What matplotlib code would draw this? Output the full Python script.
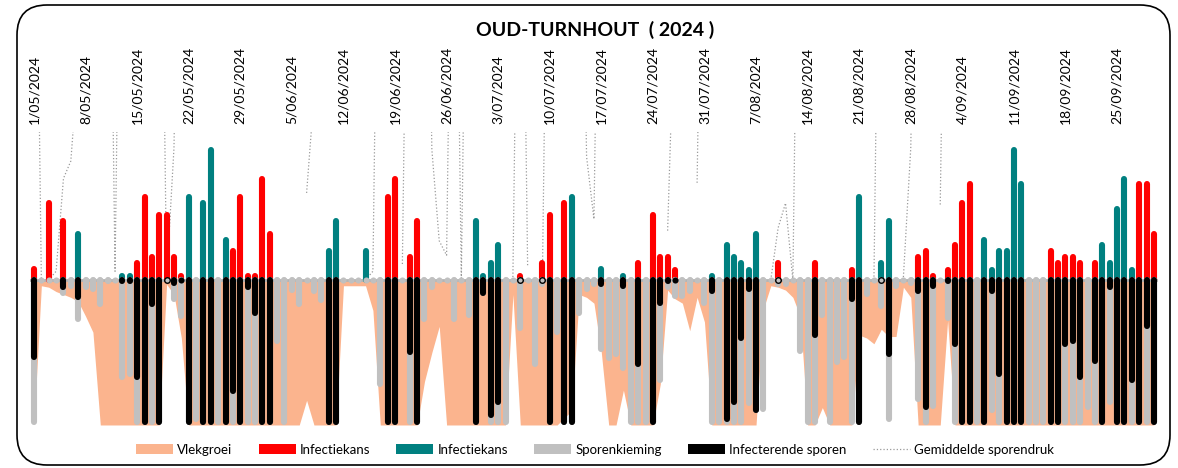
import numpy as np
import matplotlib.pyplot as plt
from matplotlib.patches import FancyBboxPatch, Patch
from matplotlib.lines import Line2D
from matplotlib.transforms import IdentityTransform

plt.rcParams['font.family'] = ['Lato', 'DejaVu Sans']

N = None

# infectiekans (rood / blauwgroen), per dag vanaf 1 mei
rood = [10, 0, 55, 0, 43, 0, 0,
        0, 0, 0, 0, 0, 0, 0,
        14, 59, 18, 47, 47, 18, 5,
        0, 0, 0, 0, 0, 0, 22,
        59, 5, 5, 72, 34, 0, 0,
        0, 0, 0, 0, 0, 0, 0,
        0, 0, 0, 0, 0, 0, 59,
        72, 0, 18, 43, 0, 0, 0,
        0, 0, 0, 0, 0, 0, 0,
        0, 0, 0, 5, 0, 0, 14,
        47, 0, 55, 0, 0, 0, 0,
        0, 0, 0, 0, 0, 14, 0,
        47, 18, 18, 9, 0, 0, 0,
        0, 0, 0, 0, 0, 0, 0,
        0, 0, 0, 14, 0, 0, 0,
        0, 14, 0, 0, 0, 0, 9,
        0, 0, 0, 0, 0, 0, 0,
        0, 18, 22, 5, 0, 9, 26,
        55, 68, 0, 0, 0, 0, 0,
        0, 0, 0, 0, 0, 22, 14,
        18, 18, 14, 0, 14, 0, 0,
        0, 0, 0, 68, 68, 34]

groen = [0, 0, 0, 0, 0, 0, 34,
         0, 0, 0, 0, 0, 5, 5,
         0, 0, 0, 0, 0, 0, 0,
         59, 0, 55, 92, 0, 30, 0,
         0, 0, 0, 0, 0, 0, 0,
         0, 0, 0, 0, 0, 22, 43,
         0, 0, 0, 22, 0, 0, 0,
         0, 0, 0, 0, 0, 0, 0,
         0, 0, 0, 0, 43, 5, 14,
         26, 0, 0, 0, 0, 0, 0,
         0, 0, 0, 59, 0, 0, 0,
         10, 0, 0, 5, 0, 0, 0,
         0, 0, 0, 0, 0, 0, 0,
         0, 5, 0, 26, 18, 14, 9,
         34, 0, 0, 0, 0, 0, 0,
         0, 0, 0, 0, 0, 0, 0,
         59, 0, 0, 14, 43, 0, 0,
         0, 0, 0, 0, 0, 0, 0,
         0, 0, 0, 30, 9, 22, 22,
         92, 68, 0, 0, 0, 0, 0,
         0, 0, 0, 0, 0, 26, 14,
         51, 72, 9, 0, 0, 0]

# sporenkieming (naar beneden)
kieming = [100, 0, 0, 0, 11, 6, 29,
           7, 8, 19, 3, 0, 69, 67,
           100, 100, 100, 100, 0, 15, 27,
           100, 98, 100, 100, 100, 100, 100,
           100, 100, 100, 100, 100, 44, 100,
           9, 19, 0, 10, 16, 100, 100,
           0, 0, 0, 0, 0, 74, 100,
           100, 0, 100, 100, 29, 7, 0,
           0, 29, 0, 26, 100, 11, 100,
           100, 100, 0, 35, 0, 60, 5,
           100, 38, 100, 100, 25, 8, 5,
           50, 56, 53, 63, 100, 100, 100,
           100, 71, 7, 13, 13, 10, 0,
           18, 100, 100, 100, 100, 100, 87,
           92, 91, 0, 5, 5, 0, 51,
           100, 100, 26, 100, 59, 55, 100,
           100, 12, 0, 20, 98, 6, 0,
           4, 84, 100, 89, 0, 28, 100,
           100, 100, 100, 100, 92, 100, 100,
           100, 100, 100, 100, 100, 100, 100,
           100, 100, 100, 90, 100, 100, 86,
           100, 100, 100, 100, 100, 100]

# infecterende sporen (naar beneden), 0 = klein ringetje
sporen = [55, N, N, N, 7, N, 14,
          N, N, N, N, N, 3, 3,
          69, 100, 19, 100, 0, 4, 2,
          100, N, 100, 100, N, 100, 79,
          100, 7, 25, 100, 100, N, N,
          N, N, N, N, N, 100, 100,
          N, N, N, N, N, N, 100,
          100, N, 52, 100, N, N, N,
          N, N, N, N, 100, 11, 95,
          86, N, N, 0, N, N, 0,
          100, N, 100, 100, N, N, N,
          5, N, N, 6, N, 60, N,
          100, 18, 3, 2, N, N, N,
          N, 10, N, 98, 86, 42, 8,
          92, N, N, 0, N, N, N,
          N, 40, N, N, N, N, 15,
          100, N, N, 0, 53, N, N,
          N, 10, 90, 6, N, 3, 46,
          100, 100, N, 100, 10, 67, 100,
          100, 100, N, N, N, 100, 100,
          46, 44, 69, N, 58, 100, 7,
          100, 100, 71, 100, 34, 100]

# vlekgroei (vlak naar beneden)
vlekgroei = [100, 4, 5, 8, 10, 12, 15,
             25, 36, 100, 100, 100, 100, 100,
             100, 100, 100, 100, 3, 10, 40,
             100, 100, 100, 100, 100, 100, 100,
             100, 100, 100, 100, 100, 100, 100,
             100, 100, 83, 100, 100, 100, 100,
             4, 4, 4, 4, 21, 100, 100,
             100, 100, 100, 100, 70, 50, 32,
             100, 100, 100, 100, 100, 100, 100,
             100, 100, 10, 100, 100, 100, 100,
             100, 100, 95, 90, 10, 12, 16,
             50, 100, 100, 76, 100, 100, 100,
             100, 72, 7, 13, 16, 35, 12,
             29, 100, 100, 100, 100, 100, 100,
             100, 20, 4, 5, 7, 12, 25,
             100, 100, 88, 100, 100, 100, 100,
             38, 40, 44, 34, 39, 39, 5,
             12, 100, 100, 100, 100, 28, 100,
             100, 100, 100, 100, 100, 100, 100,
             100, 100, 100, 100, 100, 100, 100,
             100, 100, 100, 100, 100, 100, 100,
             100, 100, 100, 100, 100, 100]

# gemiddelde sporendruk (meestal boven de grafiek)
sporendruk = [400, 0, 0, 6, 70, 82, 150,
              400, N, N, 400, 6, 400, N,
              N, N, N, 400, 1, 91, 400,
              N, N, N, N, N, N, N,
              N, N, N, N, N, N, N,
              N, N, 60, 127, 400, N, N,
              N, N, N, 0, 6, 400, N,
              N, 11, 400, N, 400, 90, 27,
              17, 400, 0, 400, N, N, N,
              N, N, 2, 400, 9, N, 0,
              400, N, N, N, 400, 85, 42,
              400, N, N, N, N, N, N,
              N, N, 34, 199, N, N, 67,
              400, N, N, N, N, N, N,
              N, N, 0, 36, 53, 0, 400,
              N, N, N, N, N, N, N,
              N, N, 0, 400, N, N, 2,
              91, 400, N, N, 52, 400, N,
              N, N, N, N, N, N, N,
              N, N, N, N, N, N, N,
              N, N, N, N, N, N, N,
              N, N, N, N, N, N]

datum_labels = ['1/05/2024', '8/05/2024', '15/05/2024', '22/05/2024', '29/05/2024',
                '5/06/2024', '12/06/2024', '19/06/2024', '26/06/2024', '3/07/2024',
                '10/07/2024', '17/07/2024', '24/07/2024', '31/07/2024', '7/08/2024',
                '14/08/2024', '21/08/2024', '28/08/2024', '4/09/2024', '11/09/2024',
                '18/09/2024', '25/09/2024']

c_vlek = '#FBB48E'
c_rood = '#FF0000'
c_groen = '#008080'
c_grijs = '#C0C0C0'

def arr(lst):
    return np.array([np.nan if v is None else v for v in lst], dtype=float)

rood, groen, kieming, sporen, vlekgroei, sporendruk = map(
    arr, [rood, groen, kieming, sporen, vlekgroei, sporendruk])
dagen = np.arange(len(rood))

fig = plt.figure(figsize=(11.78, 4.68), dpi=100)
ax = fig.add_axes([0.0251, 0.0919, 0.9582, 0.626])
ax.set_xlim(-0.6, len(dagen) - 0.4)
ax.set_ylim(-100, 102)

lw = 4.4
# half the bar width in data units, so the round caps end on the value
r = lw / 72 * 100 / 2 / (fig.get_figheight() * 100 * 0.626 / 202)

def staven(vals, sign, color, z):
    ok = ~np.isnan(vals) & (vals > r)
    lc = ax.vlines(dagen[ok], 0, sign * (vals[ok] - r), colors=color,
                   linewidth=lw, zorder=z)
    lc.set_capstyle('round')

ax.fill_between(dagen, 0, -vlekgroei, color=c_vlek, lw=0, zorder=0)
ax.plot(dagen, sporendruk, color='#9a9a9a', ls=':', lw=0.9, zorder=1)
ax.axhline(0, color='#b4b4b4', lw=2, zorder=1.5)

staven(rood, 1, c_rood, 2)
staven(groen, 1, c_groen, 2)
staven(kieming, -1, c_grijs, 3)
ax.plot(dagen, np.zeros(len(dagen)), 'o', ms=lw, color=c_grijs, mew=0, zorder=3)
staven(sporen, -1, 'black', 4)
klein = ~np.isnan(sporen) & (sporen > 0) & (sporen <= r)
ax.plot(dagen[klein], np.zeros(klein.sum()), 'o', ms=lw, color='black', mew=0, zorder=4)
ring = sporen == 0
ax.plot(dagen[ring], np.zeros(ring.sum()), 'o', ms=4, mfc=c_grijs, mec='black',
        mew=1, zorder=4)

ax.xaxis.tick_top()
ax.set_xticks(dagen[::7][:len(datum_labels)])
ax.set_xticklabels(datum_labels, rotation=90, fontsize=10)
ax.tick_params(axis='x', length=0, pad=6)
ax.set_yticks([])
for s in ax.spines.values():
    s.set_visible(False)

fig.text(0.505, 1 - 30 / 468, 'OUD-TURNHOUT  ( 2024 )', ha='center', va='center',
         fontsize=14, fontweight='bold')

handles = [Patch(fc=c_vlek), Patch(fc=c_rood), Patch(fc=c_groen), Patch(fc=c_grijs),
           Patch(fc='black'), Line2D([], [], color='#9a9a9a', ls=':', lw=0.9)]
names = ['Vlekgroei', 'Infectiekans', 'Infectiekans', 'Sporenkieming',
         'Infecterende sporen', 'Gemiddelde sporendruk']
fig.legend(handles, names, loc='center', bbox_to_anchor=(0.505, 1 - 450 / 468),
           ncol=6, frameon=False, fontsize=9.5, handlelength=2.8, handleheight=0.8,
           handletextpad=0.3, columnspacing=2.0)

rand = FancyBboxPatch((17, 3), 1153, 460, boxstyle='round,pad=0,rounding_size=30',
                      transform=IdentityTransform(), fc='none', ec='black', lw=1.2)
fig.add_artist(rand)

fig.savefig('out.png', dpi=100)
